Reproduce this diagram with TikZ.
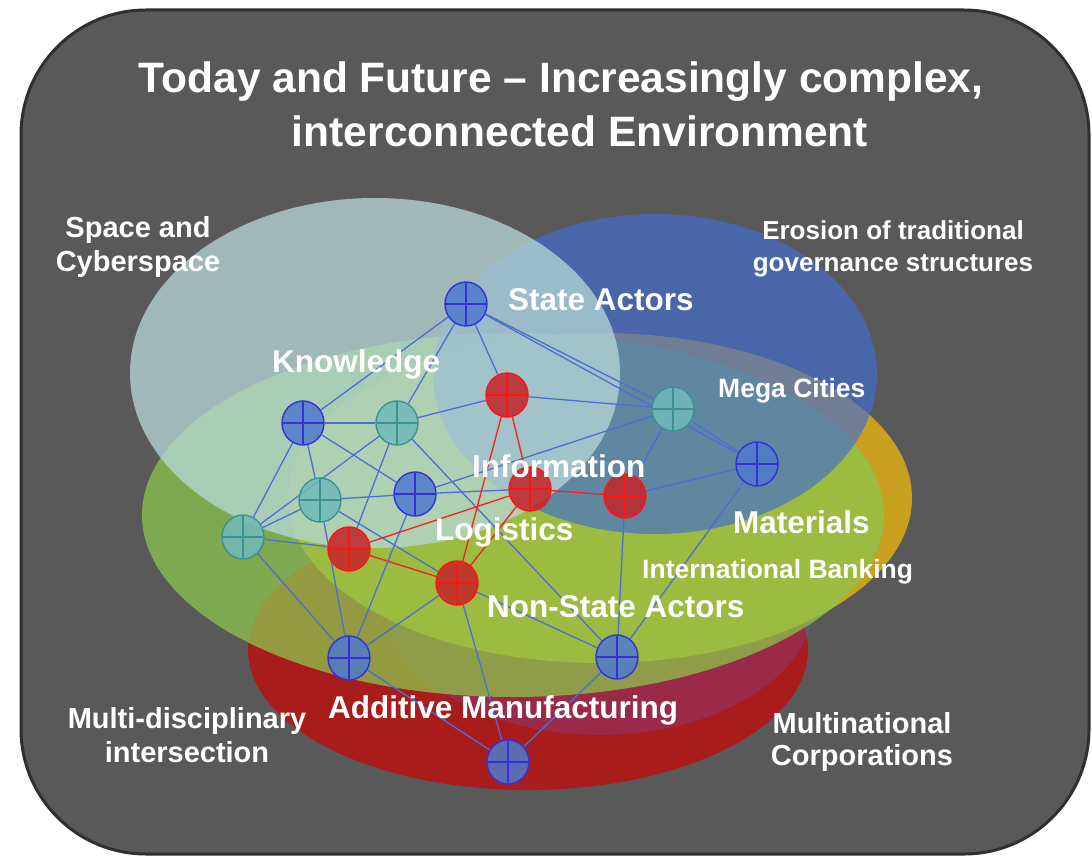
\documentclass[tikz,border=0pt]{standalone}
\usepackage{fontspec}
\setmainfont{Liberation Sans}
\usetikzlibrary{shapes.geometric}

\definecolor{panelgray}{RGB}{89,89,89}
\definecolor{rimgray}{RGB}{48,48,48}
\definecolor{ringred}{RGB}{168,28,28}
\definecolor{ringviolet}{RGB}{120,80,205}
\definecolor{ringorange}{RGB}{201,160,32}
\definecolor{ringgreen}{RGB}{140,197,77}
\definecolor{ringblue}{RGB}{63,109,211}
\definecolor{ringpale}{RGB}{184,216,216}
\definecolor{hubblue}{RGB}{50,50,215}
\definecolor{hubbluefill}{RGB}{80,122,205}
\definecolor{hubteal}{RGB}{60,145,145}
\definecolor{hubtealfill}{RGB}{112,186,186}
\definecolor{hubred}{RGB}{255,20,20}
\definecolor{hubredfill}{RGB}{195,35,40}
\definecolor{linkblue}{RGB}{75,110,215}
\definecolor{linkred}{RGB}{250,30,30}

\pgfdeclarelayer{backdrop}
\pgfdeclarelayer{wires}
\pgfsetlayers{backdrop,wires,main}

\begin{document}
\begin{tikzpicture}[x=1pt,y=-1pt,
  hub/.style={ellipse,minimum width=42pt,minimum height=44pt,inner sep=0pt,line width=1.4pt,fill opacity=.85},
  plusmark/.style={path picture={\draw[#1,line width=1.4pt] (path picture bounding box.north) -- (path picture bounding box.south) (path picture bounding box.west) -- (path picture bounding box.east);}},
  bluehub/.style={hub,draw=hubblue,fill=hubbluefill,plusmark=hubblue},
  tealhub/.style={hub,draw=hubteal,fill=hubtealfill,plusmark=hubteal},
  redhub/.style={hub,draw=hubred,fill=hubredfill,plusmark=hubred},
  link/.style={draw=linkblue,line width=1.3pt},
  hotlink/.style={draw=linkred,line width=1.3pt},
  tag/.style={text=white,inner sep=0pt,anchor=base west,font=\bfseries\fontsize{31.5}{38}\selectfont},
  smalltag/.style={tag,font=\bfseries\fontsize{26.5}{32}\selectfont},
  outtag/.style={text=white,inner sep=0pt,align=center,font=\bfseries\fontsize{29}{34}\selectfont}]
\useasboundingbox (0,0) rectangle (1092,856);

% rings
\begin{pgfonlayer}{backdrop}
\draw[line width=3pt,draw=rimgray,fill=panelgray,rounded corners=125pt] (21,10) rectangle (1089,854);
\fill[ringred] (528,650) ellipse [x radius=280pt,y radius=140pt];
\fill[ringviolet,opacity=.25] (600,600) ellipse [x radius=215pt,y radius=135pt];
\fill[ringorange] (600,498) ellipse [x radius=312pt,y radius=165pt];
\fill[ringgreen,opacity=.75] (513,515) ellipse [x radius=371pt,y radius=182pt];
\fill[ringblue,opacity=.65] (655,374) ellipse [x radius=222pt,y radius=160pt];
\fill[ringpale,opacity=.75] (375,373) ellipse [x radius=245pt,y radius=175pt];
\end{pgfonlayer}

% hubs
\node[bluehub] (state) at (466,304) {};
\node[bluehub] (know) at (303,423) {};
\node[tealhub] (tealA) at (397,423) {};
\node[redhub] (redA) at (507,395) {};
\node[tealhub] (mega) at (673,409) {};
\node[bluehub] (blueR) at (757,464) {};
\node[tealhub] (tealB) at (320,500) {};
\node[bluehub] (blueM) at (415,494) {};
\node[redhub] (info) at (530,489) {};
\node[redhub] (redR) at (625,496) {};
\node[tealhub] (tealL) at (243,537) {};
\node[redhub] (redL) at (349,549) {};
\node[redhub] (nonstate) at (457,583) {};
\node[bluehub] (blueL) at (349,658) {};
\node[bluehub] (blueB) at (617,657) {};
\node[bluehub] (additive) at (508,762) {};

% links
\begin{pgfonlayer}{wires}
\foreach \a/\b in {state/know,state/tealA,state/redA,state/mega,state/blueR,know/tealA,know/tealL,know/tealB,know/blueM,tealA/redA,tealA/tealL,tealA/redL,tealA/blueB,redA/mega,mega/blueR,mega/redR,mega/blueM,blueR/redR,blueR/blueB,tealB/tealL,tealB/blueM,tealB/nonstate,tealB/blueL,blueM/info,blueM/blueL,tealL/redL,tealL/blueL,redR/blueB,nonstate/blueL,nonstate/blueB,nonstate/additive,blueL/additive,blueB/additive}
  \draw[link] (\a) -- (\b);
\foreach \a/\b in {redA/info,redA/nonstate,info/redR,info/redL,info/nonstate,redL/nonstate}
  \draw[hotlink] (\a) -- (\b);
\end{pgfonlayer}

% labels
\node[text=white,inner sep=0pt,align=center,font=\bfseries\fontsize{42.5}{54}\selectfont] (title) at (561,104) {Today and Future – Increasingly complex,\\\hspace*{38pt}interconnected Environment};
\node[outtag] (lspace) at (138,247) {Space and\\Cyberspace};
\node[outtag,font=\bfseries\fontsize{26}{32}\selectfont] (lerosion) at (893,249) {Erosion of traditional\\governance structures};
\node[outtag] (lmulti) at (187,735) {Multi-disciplinary\\intersection};
\node[outtag,font=\bfseries\fontsize{29}{32}\selectfont] (lcorp) at (862,742) {Multinational\\Corporations};
\node[tag] (lstate) at (508,310) {State Actors};
\node[tag] (lknow) at (272,372) {Knowledge};
\node[smalltag] (lmega) at (718,397) {Mega Cities};
\node[tag] (linfo) at (472,477) {Information};
\node[tag] (llogi) at (435,540) {Logistics};
\node[tag] (lmate) at (733,533) {Materials};
\node[smalltag] (lbank) at (642,578) {International Banking};
\node[tag] (lnonstate) at (487,617) {Non-State Actors};
\node[tag] (ladditive) at (328,718) {Additive Manufacturing};
\end{tikzpicture}
\end{document}
